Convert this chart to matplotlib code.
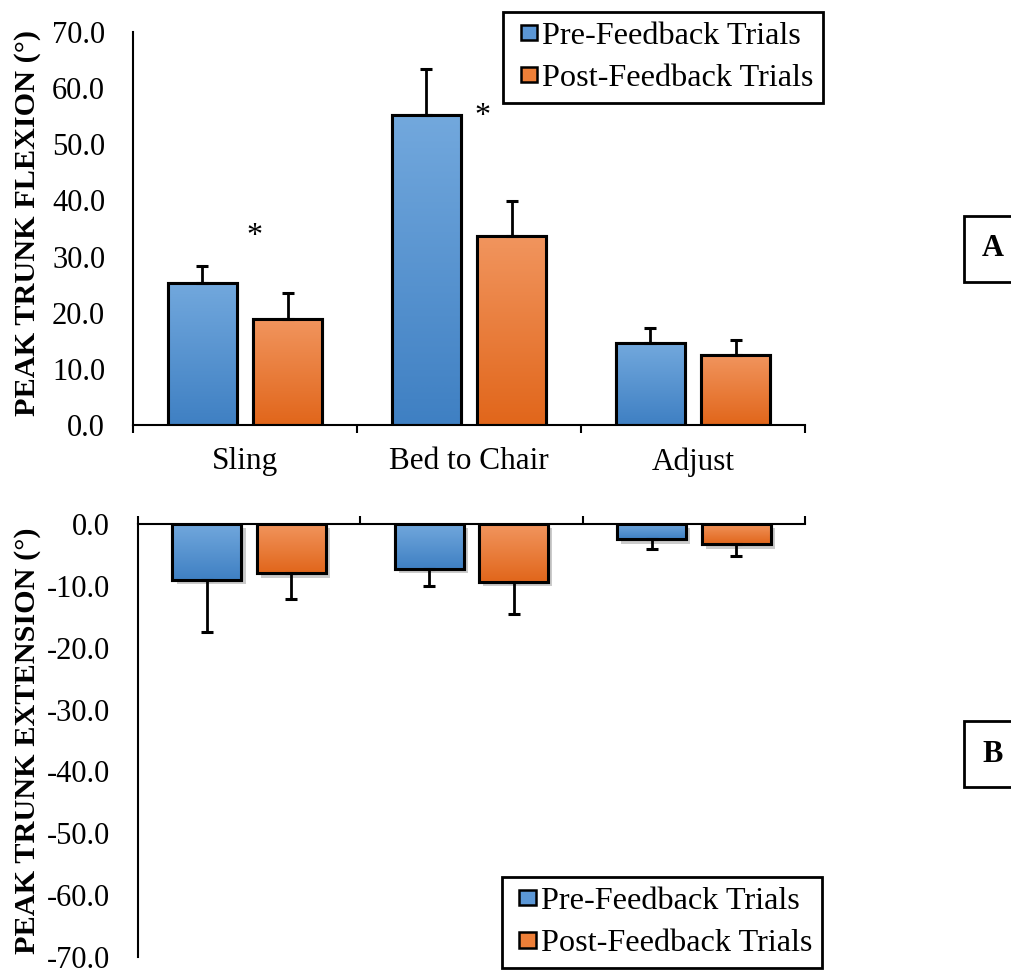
import numpy as np
import matplotlib
matplotlib.use("Agg")
import matplotlib.pyplot as plt
from matplotlib.colors import LinearSegmentedColormap
from matplotlib.patches import Patch, Rectangle
from matplotlib.legend_handler import HandlerPatch
import matplotlib.patheffects as pe

categories = ["Sling", "Bed to Chair", "Adjust"]
series_names = ["Pre-Feedback Trials", "Post-Feedback Trials"]

# peak trunk flexion (deg), mean and SD
flex_pre = [25.3, 55.2, 14.6]
flex_pre_sd = [3.0, 8.2, 2.7]
flex_post = [18.9, 33.7, 12.5]
flex_post_sd = [4.6, 6.2, 2.6]

# peak trunk extension (deg), mean and SD
ext_pre = [-9.1, -7.3, -2.5]
ext_pre_sd = [8.3, 2.8, 1.6]
ext_post = [-8.0, -9.3, -3.3]
ext_post_sd = [4.2, 5.2, 1.9]

# significance markers (category position offset, height)
stars_x = [0.04, 1.06]
stars_y = [33.6, 54.9]

plt.rcParams['font.family'] = ['Liberation Serif', 'DejaVu Serif']

blue_cmap = LinearSegmentedColormap.from_list("b", ["#3f80c3", "#72a8dd"])
orange_cmap = LinearSegmentedColormap.from_list("o", ["#e1661b", "#f1955e"])

W, H = 1011, 973
fig = plt.figure(figsize=(W / 100, H / 100), dpi=100)

ax1 = fig.add_axes([133 / W, 1 - 425 / H, 672 / W, 393 / H])
ax2 = fig.add_axes([138 / W, 1 - 957 / H, 667 / W, 433 / H])

x = np.arange(len(categories))
bw = 0.31
off = 0.19


def gradient_bars(ax, xs, vals, errs, cmap, shadow=False, up=True):
    for xi, v, e in zip(xs, vals, errs):
        kw = {}
        if shadow:
            kw['path_effects'] = [pe.SimplePatchShadow(offset=(3, -3), shadow_rgbFace='#555555', alpha=0.3), pe.Normal()]
        bar = ax.bar(xi, v, width=bw, color=cmap(0.5), edgecolor='black', linewidth=2.2, zorder=2, **kw)[0]
        lo, hi = min(0, v), max(0, v)
        grad = np.linspace(0, 1, 100).reshape(-1, 1)
        im = ax.imshow(grad, extent=[xi - bw / 2, xi + bw / 2, lo, hi], origin='lower',
                       aspect='auto', cmap=cmap, zorder=2.5, interpolation='bilinear')
        im.set_clip_path(bar)
        ax.bar(xi, v, width=bw, facecolor='none', edgecolor='black', linewidth=2.2, zorder=3)
        yerr = [[0], [e]] if up else [[e], [0]]
        ax.errorbar(xi, v, yerr=yerr, fmt='none', ecolor='black', elinewidth=2,
                    capsize=4.5, capthick=2.2, zorder=4)


gradient_bars(ax1, x - off, flex_pre, flex_pre_sd, blue_cmap, up=True)
gradient_bars(ax1, x + off, flex_post, flex_post_sd, orange_cmap, up=True)
gradient_bars(ax2, x - off, ext_pre, ext_pre_sd, blue_cmap, shadow=True, up=False)
gradient_bars(ax2, x + off, ext_post, ext_post_sd, orange_cmap, shadow=True, up=False)

for sx, sy in zip(stars_x, stars_y):
    ax1.text(sx, sy, "*", ha='center', va='center', fontsize=23)

# top panel axes
ax1.set_xlim(-0.5, 2.5)
ax1.set_ylim(0, 70)
ax1.set_yticks(np.arange(0, 71, 10))
ax1.set_yticklabels([f"{v:.1f}" for v in np.arange(0, 71, 10)])
ax1.set_xticks(x)
ax1.set_xticklabels(categories)
ax1.set_xticks([-0.5, 0.5, 1.5, 2.5], minor=True)
ax1.tick_params(axis='x', which='major', length=0, pad=16, labelsize=22.5)
ax1.tick_params(axis='x', which='minor', length=6, width=1.5, direction='out')
ax1.tick_params(axis='y', length=0, pad=20, labelsize=22)
for s in ['top', 'right']:
    ax1.spines[s].set_visible(False)
for s in ['left', 'bottom']:
    ax1.spines[s].set_linewidth(1.5)

# bottom panel axes
ax2.set_xlim(-0.5, 2.5)
ax2.set_ylim(-70, 0)
ax2.set_yticks(np.arange(-70, 1, 10))
ax2.set_yticklabels([f"{v:.1f}" for v in np.arange(-70, 1, 10)])
ax2.xaxis.tick_top()
ax2.set_xticks([-0.5, 0.5, 1.5, 2.5])
ax2.set_xticklabels([])
ax2.tick_params(axis='x', length=6, width=1.5, direction='out')
ax2.tick_params(axis='y', length=0, pad=20, labelsize=22)
for s in ['bottom', 'right']:
    ax2.spines[s].set_visible(False)
for s in ['left', 'top']:
    ax2.spines[s].set_linewidth(1.5)

fig.text(28 / W, 1 - 223 / H, "PEAK TRUNK FLEXION (°)", rotation=90, ha='center', va='center',
         fontsize=21.8, fontweight='bold')
fig.text(28 / W, 1 - 741 / H, "PEAK TRUNK EXTENSION (°)", rotation=90, ha='center', va='center',
         fontsize=21.8, fontweight='bold')


def square_handle(legend, orig_handle, xdescent, ydescent, width, height, fontsize):
    sw, sh = 12.0, 11.0
    return Rectangle((-xdescent + width - sw, -ydescent + (height - sh) / 2), sw, sh)


handles = [Patch(facecolor='#5b97d6', edgecolor='black', linewidth=1.8),
           Patch(facecolor='#ee7f38', edgecolor='black', linewidth=1.8)]
leg_kw = dict(fontsize=23.2, frameon=True, fancybox=False, edgecolor='black',
              handlelength=0.75, handleheight=0.55, handletextpad=0.15, borderpad=0.3,
              labelspacing=0.42, borderaxespad=0,
              handler_map={Patch: HandlerPatch(patch_func=square_handle)})
leg1 = ax1.legend(handles, series_names, loc='upper right', bbox_to_anchor=(1.027, 1.051), **leg_kw)
leg2 = ax2.legend(handles, series_names, loc='upper right', bbox_to_anchor=(1.0255, 0.1845), **leg_kw)
for leg in (leg1, leg2):
    leg.get_frame().set_linewidth(2)
    leg.get_frame().set_alpha(1)

for label, yc in (("A", 249), ("B", 754)):
    fig.text(993 / W, 1 - yc / H, label, ha='center', va='center', fontsize=22, fontweight='bold',
             bbox=dict(boxstyle='square,pad=0.6', facecolor='white', edgecolor='black', linewidth=2))

fig.savefig("out.png", dpi=100)
